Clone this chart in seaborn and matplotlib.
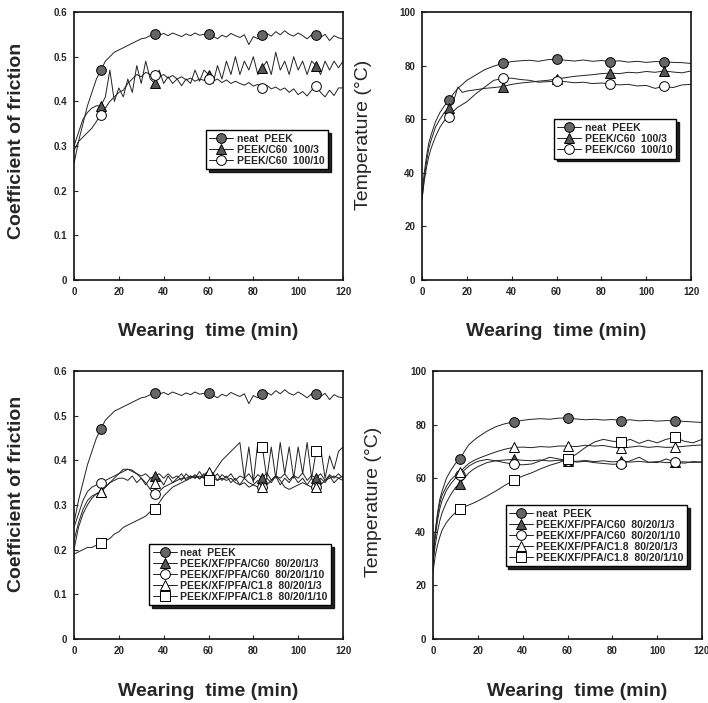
#!/usr/bin/env python3
"""
Friction coefficient and temperature vs. wearing time for PEEK composites.
Four panels: friction (left) and temperature (right), two filler series.
"""

import numpy as np
import matplotlib
matplotlib.use('Agg')
import matplotlib.pyplot as plt
import seaborn as sns

# friction curves, sampled every 2 min
t_fric = list(range(0, 122, 2))

fric_neat = [0.26, 0.31, 0.35, 0.39, 0.42, 0.45, 0.47, 0.49, 0.50, 0.51, 0.515,
             0.52, 0.525, 0.53, 0.535, 0.54, 0.542, 0.547, 0.55, 0.548, 0.552,
             0.547, 0.553, 0.549, 0.545, 0.551, 0.547, 0.553, 0.548, 0.550, 0.55,
             0.546, 0.540, 0.548, 0.544, 0.552, 0.547, 0.543, 0.549, 0.527, 0.545,
             0.540, 0.548, 0.552, 0.546, 0.556, 0.549, 0.558, 0.550, 0.546, 0.553,
             0.547, 0.540, 0.549, 0.548, 0.543, 0.550, 0.536, 0.547, 0.542, 0.540]

fric_c60_3 = [0.30, 0.33, 0.36, 0.375, 0.385, 0.39, 0.39, 0.41, 0.47, 0.40, 0.43,
              0.41, 0.45, 0.42, 0.48, 0.44, 0.49, 0.45, 0.44, 0.47, 0.44,
              0.455, 0.44, 0.45, 0.435, 0.45, 0.44, 0.47, 0.445, 0.47, 0.46,
              0.44, 0.48, 0.45, 0.49, 0.46, 0.50, 0.46, 0.49, 0.47, 0.50,
              0.46, 0.475, 0.49, 0.46, 0.51, 0.47, 0.49, 0.46, 0.50, 0.47,
              0.49, 0.46, 0.49, 0.48, 0.46, 0.49, 0.47, 0.49, 0.475, 0.49]

fric_c60_10 = [0.29, 0.31, 0.32, 0.33, 0.34, 0.355, 0.37, 0.385, 0.40, 0.41, 0.42,
               0.425, 0.44, 0.45, 0.46, 0.455, 0.465, 0.46, 0.46, 0.455, 0.46,
               0.452, 0.458, 0.45, 0.455, 0.448, 0.452, 0.445, 0.45, 0.447, 0.45,
               0.445, 0.45, 0.442, 0.448, 0.44, 0.445, 0.44, 0.436, 0.442, 0.434,
               0.438, 0.43, 0.436, 0.428, 0.432, 0.425, 0.43, 0.42, 0.428, 0.415,
               0.422, 0.412, 0.425, 0.435, 0.42, 0.41, 0.425, 0.413, 0.43, 0.43]

fric_xf_c60_3 = [0.22, 0.26, 0.29, 0.31, 0.32, 0.325, 0.33, 0.34, 0.35, 0.36, 0.37,
                 0.38, 0.38, 0.375, 0.37, 0.365, 0.37, 0.36, 0.365, 0.37, 0.36,
                 0.37, 0.36, 0.365, 0.355, 0.37, 0.36, 0.368, 0.358, 0.366, 0.36,
                 0.37, 0.355, 0.368, 0.36, 0.37, 0.355, 0.365, 0.36, 0.37, 0.355,
                 0.368, 0.36, 0.372, 0.356, 0.365, 0.36, 0.37, 0.356, 0.366, 0.36,
                 0.372, 0.355, 0.366, 0.36, 0.37, 0.355, 0.368, 0.36, 0.37, 0.36]

fric_xf_c60_10 = [0.25, 0.28, 0.31, 0.33, 0.34, 0.345, 0.35, 0.355, 0.36, 0.365, 0.37,
                  0.375, 0.38, 0.378, 0.37, 0.36, 0.35, 0.335, 0.325, 0.33, 0.34,
                  0.345, 0.35, 0.355, 0.36, 0.36, 0.365, 0.36, 0.365, 0.36, 0.365,
                  0.36, 0.355, 0.36, 0.355, 0.36, 0.35, 0.345, 0.35, 0.34, 0.345,
                  0.34, 0.34, 0.345, 0.355, 0.365, 0.355, 0.34, 0.335, 0.34, 0.345,
                  0.35, 0.345, 0.34, 0.34, 0.345, 0.355, 0.36, 0.365, 0.36, 0.365]

fric_xf_c18_3 = [0.20, 0.25, 0.28, 0.30, 0.315, 0.325, 0.33, 0.34, 0.35, 0.355, 0.36,
                 0.36, 0.355, 0.365, 0.35, 0.36, 0.345, 0.36, 0.35, 0.36, 0.345,
                 0.365, 0.35, 0.36, 0.37, 0.355, 0.365, 0.36, 0.375, 0.36, 0.375,
                 0.36, 0.37, 0.355, 0.365, 0.35, 0.36, 0.345, 0.36, 0.35, 0.345,
                 0.355, 0.34, 0.36, 0.35, 0.365, 0.345, 0.36, 0.35, 0.365, 0.35,
                 0.36, 0.345, 0.36, 0.34, 0.36, 0.35, 0.365, 0.35, 0.36, 0.355]

fric_xf_c18_10 = [0.19, 0.195, 0.20, 0.205, 0.205, 0.21, 0.215, 0.22, 0.225, 0.235, 0.24,
                  0.25, 0.255, 0.26, 0.265, 0.27, 0.275, 0.285, 0.29, 0.305, 0.32,
                  0.33, 0.34, 0.345, 0.35, 0.355, 0.36, 0.365, 0.36, 0.37, 0.355,
                  0.37, 0.385, 0.40, 0.41, 0.42, 0.43, 0.44, 0.36, 0.43, 0.35,
                  0.44, 0.43, 0.36, 0.43, 0.36, 0.44, 0.37, 0.43, 0.36, 0.43,
                  0.37, 0.44, 0.36, 0.42, 0.43, 0.36, 0.41, 0.38, 0.42, 0.43]

# temperature curves, irregular sampling (denser at start)
t_temp = [0, 1, 2, 3, 4, 6, 8, 10, 12, 14, 16, 18, 20, 24, 28, 32, 36, 40, 44,
          48, 52, 56, 60, 64, 68, 72, 76, 80, 84, 88, 92, 96, 100, 104, 108,
          112, 116, 120]

temp_neat_a = [32, 40, 46, 51, 54, 59, 62.5, 65, 67, 69.5, 71.5, 73, 74.5, 76.5,
               78.5, 79.8, 80.8, 81.5, 81.8, 82, 81.6, 82.2, 82.4, 82, 81.7, 82.1,
               81.6, 81.9, 81.5, 81.8, 81.3, 81.6, 81.2, 81.5, 81.4, 81.2, 81.1, 80.8]

temp_c60_3 = [30, 38, 44, 49, 52, 57, 60, 62.5, 64, 66.5, 72, 70, 70.5, 71,
              71.5, 71.8, 72.2, 73, 73.5, 73.8, 74.2, 74.5, 75, 75.5, 76, 76.3,
              76.6, 77, 77.2, 77, 77.5, 77.3, 77.8, 77.5, 78, 77.6, 77.3, 78]

temp_c60_10 = [30, 37, 42, 46, 49, 53.5, 57, 59.5, 61, 63, 64.5, 65.5, 66.5, 69.5,
               72, 74.5, 75.2, 75.3, 74.8, 74.5, 73.8, 74, 74.2, 74, 73.6, 73.8,
               73.3, 73.5, 73.2, 72.8, 73, 72.4, 72.6, 71.5, 72.3, 71.8, 72.8, 73]

temp_neat_b = [30, 40, 47, 52, 55, 60, 63, 65.5, 67, 70, 72.5, 74, 75.3, 77.5,
               79.2, 80.3, 81, 81.6, 82, 82.2, 82, 82.4, 82.5, 82.1, 81.8, 82,
               81.7, 81.9, 81.5, 81.8, 81.4, 81.6, 81.3, 81.5, 81.4, 81.2, 81, 80.8]

temp_xf_c60_3 = [28, 35, 40, 44, 47, 51, 54, 56.5, 58, 60, 62, 63.3, 64.3, 65.8,
                 66.5, 66.8, 67, 66.7, 66.5, 66.8, 66.4, 66.7, 66.5, 66.3, 66.6, 66.2,
                 66.5, 66.1, 66.3, 66, 66.3, 65.9, 66.2, 65.8, 66, 66.1, 65.9, 66]

temp_xf_c60_10 = [29, 38, 44, 48.5, 51.5, 55.5, 58, 60, 61.3, 63, 64.5, 65.5, 66.3, 67,
                  66.5, 65.8, 65.2, 65, 65.3, 66.5, 67.8, 67.2, 66.6, 66, 66.3, 65.8,
                  65.5, 65.2, 65.3, 66.5, 67.8, 66, 65.8, 67.2, 66, 65.6, 66.2, 66]

temp_xf_c18_3 = [30, 40, 46, 50.5, 53.5, 57, 59.5, 61, 62.2, 64, 65.5, 66.5, 67.3, 68.6,
                 69.8, 70.8, 71.5, 71.6, 71.4, 71.8, 71.6, 72, 72, 71.8, 72.3, 72,
                 72.2, 71.6, 71.2, 71.6, 72, 71.5, 71.8, 71.5, 71.6, 71.9, 72.2, 72.4]

temp_xf_c18_10 = [25, 31, 35, 38, 40.5, 43.5, 45.5, 47.2, 48.5, 49.3, 50, 50.7, 51.5, 53.3,
                  55.2, 57.3, 59.2, 60.8, 62, 63.5, 64.8, 65.8, 67, 69, 71.5, 73.5,
                  74.5, 73.8, 73.5, 74.5, 73, 74.2, 73.2, 74.5, 75.2, 73.8, 73.2, 74.5]

labels_top = ['neat  PEEK', 'PEEK/C60  100/3', 'PEEK/C60  100/10']
labels_bottom = ['neat  PEEK', 'PEEK/XF/PFA/C60  80/20/1/3', 'PEEK/XF/PFA/C60  80/20/1/10',
                 'PEEK/XF/PFA/C1.8  80/20/1/3', 'PEEK/XF/PFA/C1.8  80/20/1/10']

mark_times = [12, 36, 60, 84, 108]

# marker style per series: (marker, facecolor)
styles = [('o', '#666666'), ('^', '#555555'), ('o', 'white'), ('^', 'white'), ('s', 'white')]

LINE = '#222222'


def draw_panel(ax, t, series, labels, ylim, yticks, yfmt):
    idx = [t.index(m) for m in mark_times]
    for y, lab, (mk, fc) in zip(series, labels, styles):
        sns.lineplot(x=t, y=y, ax=ax, color=LINE, linewidth=0.7,
                     marker=mk, markevery=idx, markersize=6.5 if mk != 'o' else 7,
                     markerfacecolor=fc, markeredgecolor='black', markeredgewidth=0.7,
                     label=lab, estimator=None, errorbar=None, sort=False)
    ax.set_xlim(0, 120)
    ax.set_ylim(*ylim)
    ax.set_xticks(range(0, 121, 20))
    ax.set_yticks(yticks)
    ax.set_yticklabels([yfmt(v) for v in yticks])
    ax.tick_params(direction='in', length=3, width=0.8, labelsize=7, pad=5)
    for lab in ax.get_xticklabels() + ax.get_yticklabels():
        lab.set_fontweight('bold')
    for sp in ax.spines.values():
        sp.set_visible(True)
        sp.set_linewidth(1.2)
        sp.set_color('#111111')
    ax.set_xlabel('Wearing  time (min)', fontsize=14, fontweight='bold')
    ax.xaxis.set_label_coords(0.5, -0.16)


def add_legend(ax, anchor):
    leg = ax.legend(loc='upper left', bbox_to_anchor=anchor, frameon=True,
                    fancybox=False, shadow={'color': 'black', 'alpha': 0.85},
                    edgecolor='black', framealpha=1, prop={'size': 7.5, 'weight': 'bold'},
                    handlelength=2.3, handletextpad=0.3, labelspacing=0.1,
                    borderpad=0.35, borderaxespad=0)
    leg.get_frame().set_linewidth(1.0)


def fric_fmt(v):
    return '0' if v == 0 else f'{v:.1f}'


def temp_fmt(v):
    return f'{v:d}'


def main():
    sns.set_style('ticks')
    plt.rcParams['font.family'] = ['Liberation Sans', 'DejaVu Sans']

    fig = plt.figure(figsize=(7.08, 7.03), dpi=100)
    w, h = 269 / 708, 268 / 703
    ax_tl = fig.add_axes([74 / 708, 1 - 280 / 703, w, h])
    ax_tr = fig.add_axes([422 / 708, 1 - 280 / 703, w, h])
    ax_bl = fig.add_axes([74 / 708, 1 - 639 / 703, w, h])
    ax_br = fig.add_axes([433 / 708, 1 - 639 / 703, w, h])

    fric_ticks = [0, 0.1, 0.2, 0.3, 0.4, 0.5, 0.6]
    temp_ticks = [0, 20, 40, 60, 80, 100]

    draw_panel(ax_tl, t_fric, [fric_neat, fric_c60_3, fric_c60_10], labels_top,
               (0, 0.6), fric_ticks, fric_fmt)
    draw_panel(ax_tr, t_temp, [temp_neat_a, temp_c60_3, temp_c60_10], labels_top,
               (0, 100), temp_ticks, temp_fmt)
    draw_panel(ax_bl, t_fric, [fric_neat, fric_xf_c60_3, fric_xf_c60_10,
                               fric_xf_c18_3, fric_xf_c18_10], labels_bottom,
               (0, 0.6), fric_ticks, fric_fmt)
    draw_panel(ax_br, t_temp, [temp_neat_b, temp_xf_c60_3, temp_xf_c60_10,
                               temp_xf_c18_3, temp_xf_c18_10], labels_bottom,
               (0, 100), temp_ticks, temp_fmt)

    # y labels
    for ax, x, y in [(ax_tl, -0.182, 0.52), (ax_bl, -0.182, 0.54)]:
        ax.set_ylabel('Coefficient of friction', fontsize=14, fontweight='bold')
        ax.yaxis.set_label_coords(x, y)
    for ax, x, y in [(ax_tr, -0.186, 0.54), (ax_br, -0.19, 0.51)]:
        ax.set_ylabel('Temperature (°C)', fontsize=14)
        ax.yaxis.set_label_coords(x, y)
    ax_bl.xaxis.set_label_coords(0.5, -0.165)
    ax_br.xaxis.set_label_coords(0.535, -0.165)

    add_legend(ax_tl, (0.49, 0.56))
    add_legend(ax_tr, (0.49, 0.60))
    add_legend(ax_bl, (0.28, 0.355))
    add_legend(ax_br, (0.27, 0.50))

    fig.savefig('out.png', dpi=100)


if __name__ == '__main__':
    main()
